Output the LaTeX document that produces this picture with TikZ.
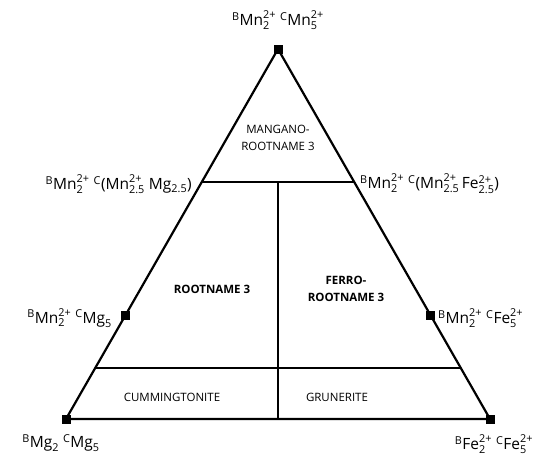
\documentclass[tikz,border=0pt]{standalone}
\usepackage{amsmath}
\usepackage{fontspec}
\setmainfont{Open Sans}
\usepackage{tikz}

% site label: pre-superscript, element, subscript, charge
\newcommand{\site}[4]{${}^{\text{#1}}\text{#2}^{\text{#4}}_{\text{#3}}$}

\tikzset{
  corner/.style={fill=black,minimum size=9pt,inner sep=0pt},
  edge/.style={line width=2.2pt},
  divide/.style={line width=1.1pt},
  field/.style={font=\fontsize{11.5}{17.5}\selectfont,align=center},
  endm/.style={font=\fontsize{15.5}{17}\selectfont,inner sep=1pt}
}

\begin{document}
\begin{tikzpicture}[x=1pt,y=-1pt]

\useasboundingbox (0,0) rectangle (541,463);

% corners of the triangle
\node[corner] (mn) at (278,49) {};
\node[corner] (mg) at (66,419) {};
\node[corner] (fe) at (490,419) {};
\node[corner] (mnmg) at (125.6,315) {};
\node[corner] (mnfe) at (430.4,315) {};

% divisions
\coordinate (tl) at (201.8,182);
\coordinate (tr) at (354.2,182);
\coordinate (bl) at (95.2,368);
\coordinate (br) at (460.8,368);
\coordinate (vt) at (278,182);
\coordinate (vb) at (278,419);

\draw[divide] (tl) -- (tr);
\draw[divide] (bl) -- (br);
\draw[divide] (vt) -- (vb);
\draw[edge,line join=miter] (mn.center) -- (mg.center) -- (fe.center) -- cycle;

% end-member labels
\node[endm] (lmn) at (278,20) {\site{B}{Mn}{2}{2+} \site{C}{Mn}{5}{2+}};
\node[endm,anchor=east] (lmnmg) at (193,184) {\site{B}{Mn}{2}{2+} \site{C}{(Mn}{2.5}{2+} Mg$_{\text{2.5}}$)};
\node[endm,anchor=west] (lmnfe) at (359,184) {\site{B}{Mn}{2}{2+} \site{C}{(Mn}{2.5}{2+}\,Fe$^{\text{2+}}_{\text{2.5}}$)};
\node[endm,anchor=east] (lmgm) at (113,318) {\site{B}{Mn}{2}{2+} \site{C}{Mg}{5}{}};
\node[endm,anchor=west] (lfem) at (437,318) {\site{B}{Mn}{2}{2+} \site{C}{Fe}{5}{2+}};
\node[endm] (lmg) at (61,443) {\site{B}{Mg}{2}{} \site{C}{Mg}{5}{}};
\node[endm] (lfe) at (494,444) {\site{B}{Fe}{2}{2+} \site{C}{Fe}{5}{2+}};

% fields
\node[field] (mangano) at (278,138) {MANGANO-\\ROOTNAME 3};
\node[field,font=\fontsize{11.5}{17}\selectfont\bfseries] (root) at (212,289) {ROOTNAME 3};
\node[field,font=\fontsize{11.5}{17}\selectfont\bfseries] (ferro) at (346,289) {FERRO-\\ROOTNAME 3};
\node[field] (cumm) at (172,397) {CUMMINGTONITE};
\node[field] (grun) at (337,397) {GRUNERITE};

\end{tikzpicture}
\end{document}
